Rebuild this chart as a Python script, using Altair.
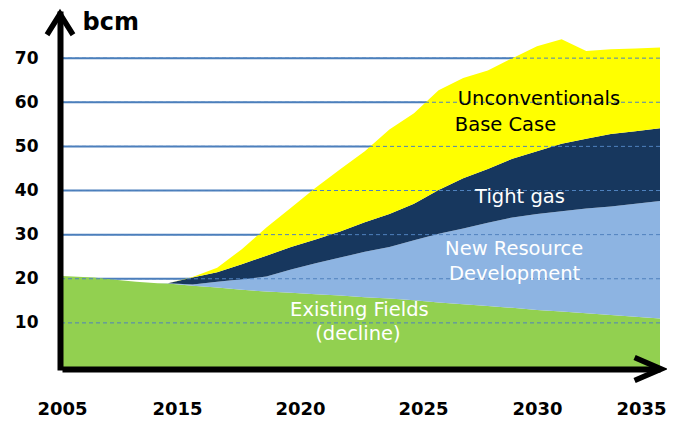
import altair as alt
import pandas as pd

# ---- data (bcm) ----
years = [2005, 2008, 2010, 2012, 2014, 2015, 2016, 2017, 2018, 2019, 2020,
         2021, 2022, 2023, 2024, 2025, 2026, 2027, 2028, 2029, 2030,
         2031, 2032, 2033, 2034, 2035]
existing = [20.6, 20.3, 19.8, 19.3, 19.0, 18.9, 18.4, 18.0, 17.5, 17.1, 16.8,
            16.5, 16.2, 15.8, 15.5, 15.1, 14.6, 14.2, 13.8, 13.4, 12.9,
            12.6, 12.2, 11.8, 11.4, 11.0]
new_resource = [0, 0, 0, 0, 0, 0.1, 0.3, 1.3, 2.4, 3.4, 5.3,
                7.0, 8.6, 10.3, 11.7, 13.6, 15.6, 17.2, 18.9, 20.5, 21.8,
                22.7, 23.7, 24.6, 25.6, 26.6]
tight_gas = [0, 0, 0, 0, 0, 0.0, 1.6, 2.2, 3.4, 4.7, 5.1,
             5.4, 5.9, 6.7, 7.5, 8.3, 9.9, 11.4, 12.2, 13.3, 14.2,
             15.3, 15.8, 16.4, 16.4, 16.5]
unconventionals = [0, 0, 0, 0, 0, 0.0, 0.1, 1.0, 3.4, 6.4, 8.9,
                   11.7, 14.1, 16.1, 19.1, 20.5, 22.6, 22.7, 22.3, 22.8, 23.8,
                   23.7, 19.9, 19.2, 18.8, 18.3]

series_names = ["Existing Fields", "New Resource Development", "Tight gas",
                "Unconventionals Base Case"]
series_colors = ["#92D050", "#8DB4E2", "#17375E", "#FFFF00"]

grid_values = [10, 20, 30, 40, 50, 60, 70]
x_tick_years = [2005, 2015, 2020, 2025, 2030, 2035]

label_lines = ["Unconventionals", "Base Case", "Tight gas", "New Resource",
               "Development", "Existing Fields", "(decline)"]
label_years = [2030.08, 2028.72, 2029.31, 2029.07, 2029.09, 2022.78, 2022.72]
label_values = [59.4, 53.5, 37.2, 25.3, 19.65, 11.66, 6.23]
label_colors = ["#000000", "#000000", "#FFFFFF", "#FFFFFF", "#FFFFFF",
                "#FFFFFF", "#FFFFFF"]

# ---- tables ----
rows = []
for k, (name, vals) in enumerate(zip(series_names,
                                     [existing, new_resource, tight_gas, unconventionals])):
    for yr, v in zip(years, vals):
        rows.append({"year": yr, "value": v, "series": name, "k": k})
df = pd.DataFrame(rows)
grid_df = pd.DataFrame({"value": grid_values})
label_df = pd.DataFrame({"text": label_lines, "year": label_years,
                         "value": label_values, "color": label_colors})
yarrow_df = pd.DataFrame({"year": [years[0]], "value": [80]})
xarrow_df = pd.DataFrame({"year": [years[-1]], "value": [0]})

x_scale = alt.Scale(domain=[2005, 2015, 2035], range=[0, 106, 598], nice=False, zero=False)
y_scale = alt.Scale(domain=[0, 80], nice=False)

FONT = "DejaVu Sans"

x_axis = alt.Axis(values=x_tick_years, format="d", title=None, grid=False,
                  domain=True, domainColor="black", domainWidth=6, offset=2,
                  ticks=False, tickSize=0, zindex=1, labelFlush=False,
                  labelFont=FONT, labelFontWeight="bold", labelFontSize=18,
                  labelColor="black", labelPadding=31,
                  labelOffset={"condition": [
                      {"test": "datum.value == 2035", "value": -19},
                      {"test": "datum.value >= 2015 && datum.value <= 2025", "value": 9}],
                      "value": 0})
y_axis = alt.Axis(values=grid_values, grid=False, domain=True, domainColor="black",
                  domainWidth=6, domainCap="square", offset=2, ticks=False,
                  tickSize=0, zindex=1, labelFont=FONT, labelFontWeight="bold",
                  labelFontSize=17, labelColor="black", labelPadding=22,
                  labelFlush=False,
                  title="bcm", titleAngle=0, titleFont=FONT, titleFontWeight="bold",
                  titleFontSize=24, titleColor="black", titleAlign="left",
                  titleBaseline="alphabetic", titleX=22, titleY=15)

X = alt.X("year:Q", scale=x_scale, axis=x_axis)
Y = alt.Y("value:Q", scale=y_scale, axis=y_axis)

thick_grid = alt.Chart(grid_df).mark_rule(color="#4A7EBB", strokeWidth=2).encode(y=Y)

areas = alt.Chart(df).mark_area(interpolate="linear").encode(
    x=X,
    y=alt.Y("value:Q", stack="zero", scale=y_scale, axis=y_axis),
    color=alt.Color("series:N", scale=alt.Scale(domain=series_names, range=series_colors),
                    legend=None),
    order=alt.Order("k:Q"),
)

thin_grid = alt.Chart(grid_df).mark_rule(color="#4F81BD", strokeWidth=1,
                                         strokeDash=[4, 3]).encode(y=Y)

labels = alt.Chart(label_df).mark_text(font=FONT, fontSize=19.5, align="center",
                                       baseline="alphabetic").encode(
    x=X, y=Y,
    text="text:N",
    color=alt.Color("color:N", scale=None),
)

yarrow = alt.Chart(yarrow_df).mark_point(
    shape="M-1,1.6L0,0L1,1.6", size=676, filled=False, stroke="black", strokeWidth=5.5,
    opacity=1, xOffset=-2, strokeJoin="miter"
).encode(x=X, y=Y)

xarrow = alt.Chart(xarrow_df).mark_point(
    shape="M-2.2,-0.95L0,0L-2.2,0.95", size=576, filled=False, stroke="black",
    strokeWidth=5.5, opacity=1, xOffset=1, yOffset=2, strokeJoin="miter"
).encode(x=X, y=Y)

chart = alt.layer(thick_grid, areas, thin_grid, labels, yarrow, xarrow).properties(
    width=598, height=353,
    background="white",
    autosize=alt.AutoSizeParams(type="none"),
    padding={"left": 54, "top": 6, "right": 7, "bottom": 53},
).configure_view(stroke="transparent", strokeWidth=0)

chart.save("out.html", embed_options={"renderer": "svg", "actions": False})
